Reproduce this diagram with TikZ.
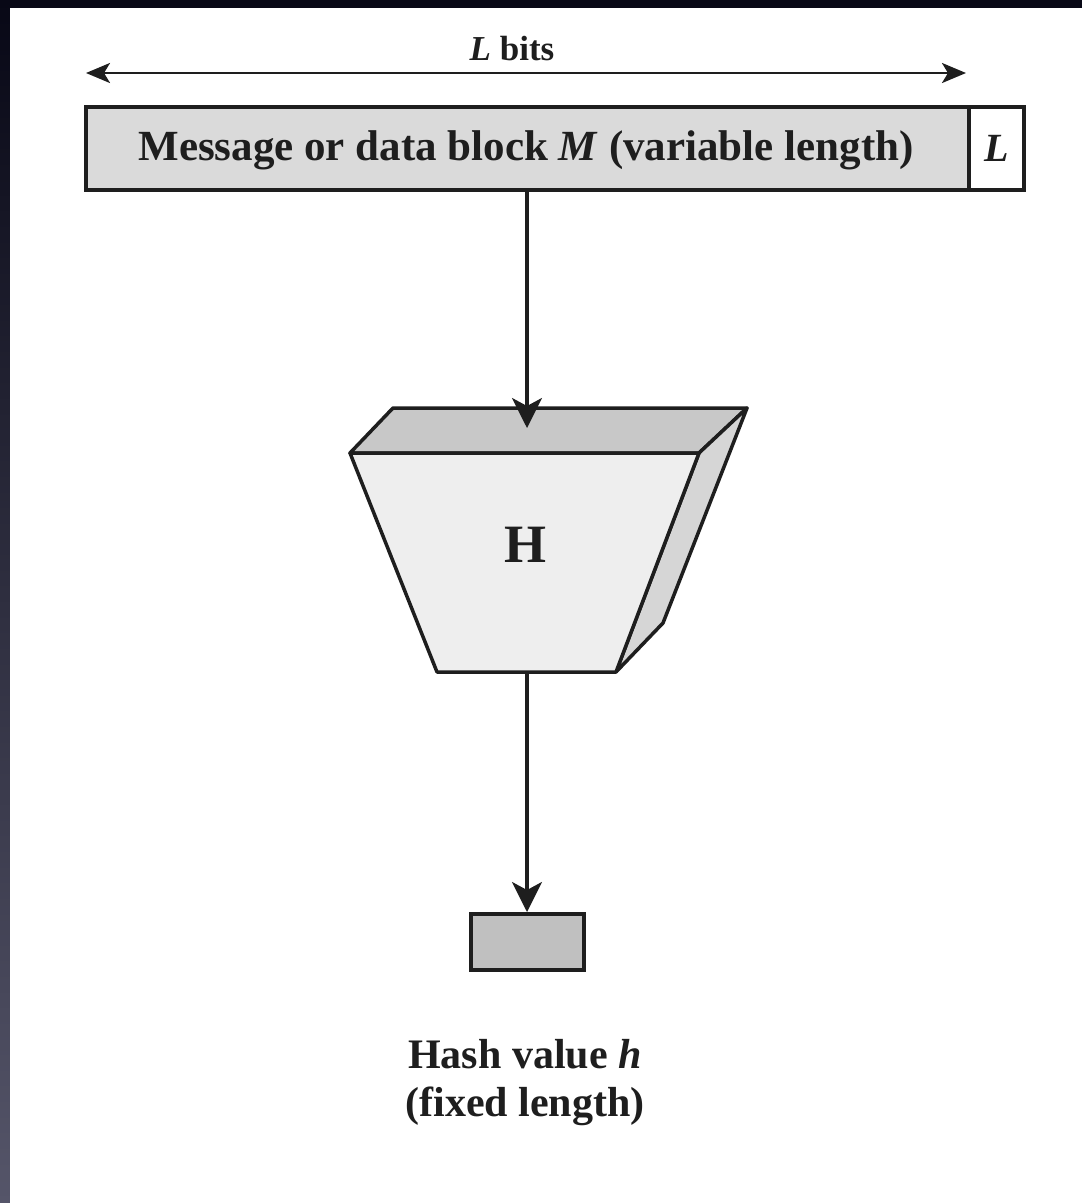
\documentclass[tikz,border=0pt]{standalone}
\usepackage{fontspec}
\setmainfont{Liberation Serif}
\usetikzlibrary{arrows.meta}
\definecolor{msgfill}{RGB}{218,218,218}
\definecolor{topfill}{RGB}{200,200,200}
\definecolor{frontfill}{RGB}{238,238,238}
\definecolor{sidefill}{RGB}{214,214,214}
\definecolor{hashfill}{RGB}{192,192,192}
\definecolor{edge}{RGB}{30,30,30}
\tikzset{
  lw/.style={line width=3.5pt, draw=edge},
  conn/.style={line width=3.2pt, draw=edge, -{Stealth[length=30pt,width=30pt,inset=8pt]}},
  lbl/.style={inner sep=0pt, font=\fontsize{43}{50}\selectfont\bfseries, text=edge},
}
\begin{document}
\begin{tikzpicture}[x=1pt,y=-1pt]
\useasboundingbox (0,0) rectangle (1082,1203);
% frame
\shade[top color={rgb,255:red,8;green,8;blue,22}, bottom color={rgb,255:red,85;green,85;blue,105}] (0,0) rectangle (1082,1203);
\fill[white] (10,8) rectangle (1082,1203);
% width arrow
\coordinate (wl) at (86,73);
\coordinate (wr) at (966,73);
\draw[line width=2.8pt, draw=edge, {Stealth[length=24pt,width=20pt,inset=6pt]}-{Stealth[length=24pt,width=20pt,inset=6pt]}] (wl) -- (wr);
\node[lbl, font=\fontsize{35}{40}\selectfont\bfseries] (lbits) at (512,49) {\textit{L} bits};
% message block
\node[lw, fill=msgfill, minimum width=883pt, minimum height=83pt, inner sep=0pt, anchor=north west] (msg) at (84,105) {};
\node[lw, fill=white, minimum width=55pt, minimum height=83pt, inner sep=0pt, anchor=north west] (lbox) at (967,105) {};
\node[lbl] (msgtxt) at (526,150) {Message or data block \textit{M} (variable length)};
\node[lbl, font=\fontsize{40}{46}\selectfont\bfseries] (ltxt) at (lbox.center) {\textit{L}};
% hash function H
\coordinate (ftl) at (350,453);
\coordinate (ftr) at (699,453);
\coordinate (fbl) at (437,672);
\coordinate (fbr) at (616,672);
\coordinate (btl) at (393,408);
\coordinate (btr) at (747,408);
\coordinate (sbr) at (663,623);
\draw[lw, fill=topfill, line join=round] (ftl) -- (btl) -- (btr) -- (ftr) -- cycle;
\draw[lw, fill=sidefill, line join=round] (ftr) -- (btr) -- (sbr) -- (fbr) -- cycle;
\draw[lw, fill=frontfill, line join=round] (ftl) -- (ftr) -- (fbr) -- (fbl) -- cycle;
\node[lbl, font=\fontsize{54}{60}\selectfont\bfseries] (H) at (525,545) {H};
\coordinate (hin) at (527,428);
\coordinate (hout) at (527,672);
% hash value box
\node[lw, fill=hashfill, minimum width=113pt, minimum height=56pt, inner sep=0pt, anchor=north west] (hv) at (469,912) {};
\node[lbl, align=center, font=\fontsize{42}{48}\selectfont\bfseries] (hvtxt) at (525,1083) {Hash value \textit{h}\\(fixed length)};
% connectors
\draw[conn] (msg.south -| hin) -- (hin);
\draw[conn] (hout) -- (hv.north -| hout);
\end{tikzpicture}
\end{document}
